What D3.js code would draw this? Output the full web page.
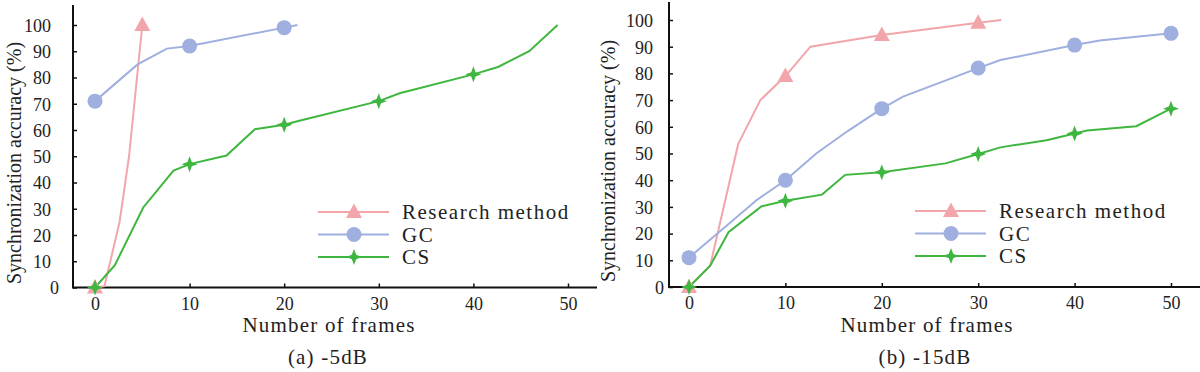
<!DOCTYPE html>
<html>
<head>
<meta charset="utf-8">
<script src="https://cdn.jsdelivr.net/npm/d3@7"></script>
<style>
  html, body { margin: 0; padding: 0; background: #fff; }
  svg { display: block; }
  svg text { font-family: "Liberation Serif", "Times New Roman", Tinos, "DejaVu Serif", serif !important; fill: #222; }
</style>
</head>
<body>
<svg id="chart" width="1200" height="372"></svg>
<script>
// ---------- Data ----------
const seriesNames = ["Research method", "GC", "CS"];
const xTicks = [0, 10, 20, 30, 40, 50];
const yTicks = [0, 10, 20, 30, 40, 50, 60, 70, 80, 90, 100];
const captions = ["(a) -5dB", "(b) -15dB"];
const xLabel = "Number of frames";
const yLabel = "Synchronization accuracy (%)";

// Panel (a) -5dB : [frames, accuracy]
const researchA = [[0, 0], [1, 0.5], [2.6, 25], [3.6, 50], [5, 100]];
const researchAMarkers = [0, 5];
const gcA = [[0, 71], [4.5, 85], [7.6, 91], [10, 92], [20, 99], [21.4, 100]];
const gcAMarkers = [0, 10, 20];
const csA = [[0, 0], [2.1, 8.5], [5.1, 30.5], [8.3, 44.5], [10, 47], [13.9, 50.3], [16.9, 60.3],
             [20, 62], [21.6, 63.5], [30, 71], [32.2, 74], [40, 81.2], [42.6, 84], [45.9, 90], [48.9, 100]];
const csAMarkers = [0, 10, 20, 30, 40];

// Panel (b) -15dB
const researchB = [[0, 0], [2.2, 8], [5.1, 53.5], [7.4, 70], [10, 79], [12.6, 90], [20, 94.4], [30, 99], [32.4, 100]];
const researchBMarkers = [0, 10, 20, 30];
const gcB = [[0, 11], [7, 32.5], [10, 40], [13.2, 50], [16.5, 58.5], [20, 66.8], [22.2, 71.3],
             [30, 82], [32.3, 85], [40, 90.6], [42.6, 92.3], [50, 95]];
const gcBMarkers = [0, 10, 20, 30, 40, 50];
const csB = [[0, 0], [2.2, 8], [4.1, 20.5], [7.5, 30.2], [10, 32.3], [13.8, 34.6], [16.2, 42], [20, 43],
             [26.6, 46.3], [30, 49.8], [32.3, 52.3], [37.1, 55], [40, 57.5], [41.3, 58.6], [46.4, 60.2], [50, 66.8]];
const csBMarkers = [0, 10, 20, 30, 40, 50];

const colors = ["#f2a6ab", "#9fafdf", "#3fb63f"];
const markerTypes = ["triangle", "circle", "star"];
const FONT = "'Liberation Serif', 'Times New Roman', Tinos, 'DejaVu Serif', serif";

// ---------- Layout ----------
const panels = [
  {
    data: [researchA, gcA, csA], markers: [researchAMarkers, gcAMarkers, csAMarkers],
    caption: captions[0],
    xRange: [95, 568], yRange: [287.5, 25], axisX0: 73, axisX1: 597, axisY1: 5,
    yLabelX: 14, yLabelY: 163, xLabelX: 329, captionX: 328,
    legendX: 318, legendY: [212, 234.5, 257], yTickRight: 51, zeroDx: 8
  },
  {
    data: [researchB, gcB, csB], markers: [researchBMarkers, gcBMarkers, csBMarkers],
    caption: captions[1],
    xRange: [689, 1171], yRange: [287, 20], axisX0: 669, axisX1: 1200, axisY1: 2,
    yLabelX: 608, yLabelY: 161, xLabelX: 927, captionX: 925,
    legendX: 915, legendY: [211, 233.5, 256], yTickRight: 653, zeroDx: 11
  }
];

const svg = d3.select("#chart");

function markerPath(type) {
  if (type === "triangle") {
    return "M0,-8.5L8,6L-8,6Z";
  } else if (type === "circle") {
    return d3.symbol().type(d3.symbolCircle).size(Math.PI * 7.5 * 7.5)();
  } else {
    const r = 8, w = 2.2;
    return `M0,${-r}L${w},${-w}L${r},0L${w},${w}L0,${r}L${-w},${w}L${-r},0L${-w},${-w}Z`;
  }
}

panels.forEach(p => {
  const x = d3.scaleLinear().domain([0, 50]).range(p.xRange);
  const y = d3.scaleLinear().domain([0, 100]).range(p.yRange);
  const g = svg.append("g").attr("font-family", FONT);
  const y0 = y(0);

  // axes (ticks inward)
  const xAxis = g.append("g").attr("transform", `translate(0,${y0})`)
    .call(d3.axisBottom(x).tickValues(xTicks).tickSizeInner(-4).tickSizeOuter(0).tickPadding(0).tickFormat(d3.format("d")));
  xAxis.attr("font-family", FONT);
  xAxis.select(".domain").remove();
  xAxis.selectAll(".tick line").attr("stroke", "#111").attr("stroke-width", 1.5);
  xAxis.selectAll(".tick text").attr("y", 22).attr("dy", null)
    .attr("font-size", 18).attr("font-family", FONT).attr("fill", "#222");

  const yAxis = g.append("g").attr("transform", `translate(${p.axisX0},0)`)
    .call(d3.axisLeft(y).tickValues(yTicks).tickSizeInner(-4).tickSizeOuter(0).tickFormat(d3.format("d")));
  yAxis.attr("font-family", FONT);
  yAxis.select(".domain").remove();
  yAxis.selectAll(".tick line").attr("stroke", "#111").attr("stroke-width", 1.5);
  yAxis.selectAll(".tick text")
    .attr("x", d => (p.yTickRight - p.axisX0) + (d === 0 ? p.zeroDx : 0))
    .attr("dy", "0.35em")
    .attr("text-anchor", "end")
    .attr("font-size", 18).attr("font-family", FONT).attr("fill", "#222");

  // axis lines
  g.append("line").attr("x1", p.axisX0).attr("x2", p.axisX1).attr("y1", y0).attr("y2", y0)
    .attr("stroke", "#111").attr("stroke-width", 2);
  g.append("line").attr("x1", p.axisX0).attr("x2", p.axisX0).attr("y1", y0 + 1).attr("y2", p.axisY1)
    .attr("stroke", "#111").attr("stroke-width", 2);

  // series
  const line = d3.line().x(d => x(d[0])).y(d => y(d[1]));
  p.data.forEach((s, i) => {
    g.append("path").datum(s).attr("d", line)
      .attr("fill", "none").attr("stroke", colors[i]).attr("stroke-width", 2);
  });
  p.data.forEach((s, i) => {
    const pts = s.filter(d => p.markers[i].includes(d[0]));
    g.selectAll(null).data(pts).enter().append("path")
      .attr("d", markerPath(markerTypes[i]))
      .attr("transform", d => `translate(${x(d[0])},${y(d[1])})`)
      .attr("fill", colors[i]).attr("stroke", "none");
  });

  // legend
  seriesNames.forEach((name, i) => {
    const ly = p.legendY[i];
    g.append("line").attr("x1", p.legendX).attr("x2", p.legendX + 71).attr("y1", ly).attr("y2", ly)
      .attr("stroke", colors[i]).attr("stroke-width", 2);
    g.append("path").attr("d", markerPath(markerTypes[i]))
      .attr("transform", `translate(${p.legendX + 36},${ly})`).attr("fill", colors[i]);
    g.append("text").attr("x", p.legendX + 84).attr("y", ly).attr("dy", "0.35em")
      .attr("font-size", 21).style("letter-spacing", "1.5px").text(name);
  });

  // labels
  g.append("text").attr("transform", `translate(${p.yLabelX},${p.yLabelY}) rotate(-90)`)
    .attr("text-anchor", "middle").attr("dy", "0.35em")
    .attr("font-size", 20).text(yLabel);
  g.append("text").attr("x", p.xLabelX).attr("y", 332).attr("text-anchor", "middle")
    .attr("font-size", 21).style("letter-spacing", "1.2px").text(xLabel);
  g.append("text").attr("x", p.captionX).attr("y", 364).attr("text-anchor", "middle")
    .attr("font-size", 21).style("letter-spacing", "1.2px").text(p.caption);
});
</script>
</body>
</html>
